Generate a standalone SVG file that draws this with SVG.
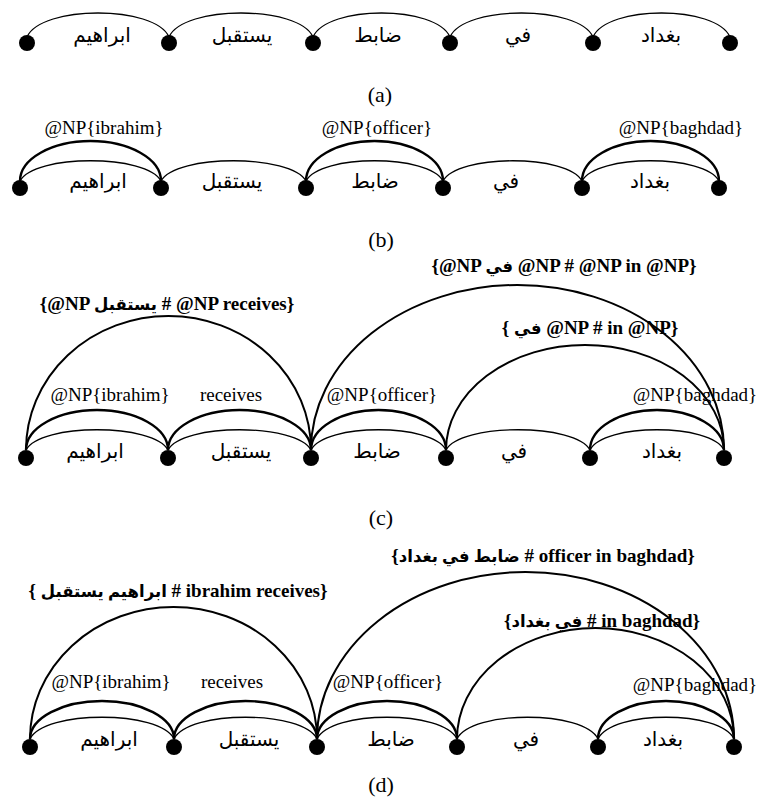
<svg xmlns="http://www.w3.org/2000/svg" width="763" height="799" viewBox="0 0 763 799">
<style>
.bg{fill:#fff}
.thin{fill:none;stroke:#000;stroke-width:1.3}
.thick{fill:none;stroke:#000;stroke-width:2.4}
.big{fill:none;stroke:#000;stroke-width:2}
.dot{fill:#000}
.w{font-family:"Liberation Sans","DejaVu Sans",sans-serif;font-size:20px;text-anchor:middle;fill:#000}
.l{font-family:"Liberation Serif","DejaVu Serif",serif;font-size:19px;text-anchor:middle;fill:#000}
.b{font-family:"Liberation Serif","DejaVu Sans",serif;font-weight:bold;font-size:19px;text-anchor:middle;fill:#000}
.ar{font-size:16.5px}
.cap{font-family:"Liberation Serif","DejaVu Serif",serif;font-size:22px;text-anchor:middle;fill:#000}
</style>
<rect class="bg" x="0" y="0" width="763" height="799"/>

<!-- Panel (a) -->
<g id="connectors-a">
<path class="thin" d="M 27 37 C 41 5 155 5 169 37"/>
<path class="thin" d="M 169 37 C 183 5 299 5 313 37"/>
<path class="thin" d="M 313 37 C 327 5 436 5 450 37"/>
<path class="thin" d="M 450 37 C 464 5 579 5 593 37"/>
<path class="thin" d="M 593 37 C 607 5 716 5 730 37"/>
</g>
<g id="a-n1"><circle class="dot" cx="27" cy="43" r="8"/></g>
<g id="a-n2"><circle class="dot" cx="169" cy="43" r="8"/></g>
<g id="a-n3"><circle class="dot" cx="313" cy="43" r="8"/></g>
<g id="a-n4"><circle class="dot" cx="450" cy="43" r="8"/></g>
<g id="a-n5"><circle class="dot" cx="593" cy="43" r="8"/></g>
<g id="a-n6"><circle class="dot" cx="730" cy="43" r="8"/></g>
<g id="labels-a">
<text class="w" x="102" y="42">ابراهيم</text>
<text class="w" x="242" y="42">يستقبل</text>
<text class="w" x="378" y="42">ضابط</text>
<text class="w" x="518" y="42">في</text>
<text class="w" x="661" y="42">بغداد</text>
<text class="cap" x="380" y="102">(a)</text>
</g>

<!-- Panel (b) -->
<g id="connectors-b">
<path class="thin" d="M 20 181 C 34 154 147 154 161 181"/>
<path class="thin" d="M 161 181 C 175.5 154 291.5 154 306 181"/>
<path class="thin" d="M 306 181 C 320 154 429 154 443 181"/>
<path class="thin" d="M 443 181 C 457 154 568 154 582 181"/>
<path class="thin" d="M 582 181 C 596 154 705 154 719 181"/>
<path class="thick" d="M 20 181 A 70.5 40 0 0 1 161 181"/>
<path class="thick" d="M 306 181 A 68.5 40 0 0 1 443 181"/>
<path class="thick" d="M 582 181 A 68.5 40 0 0 1 719 181"/>
</g>
<g id="b-n1"><circle class="dot" cx="20" cy="188" r="8"/></g>
<g id="b-n2"><circle class="dot" cx="161" cy="188" r="8"/></g>
<g id="b-n3"><circle class="dot" cx="306" cy="188" r="8"/></g>
<g id="b-n4"><circle class="dot" cx="443" cy="188" r="8"/></g>
<g id="b-n5"><circle class="dot" cx="582" cy="188" r="8"/></g>
<g id="b-n6"><circle class="dot" cx="719" cy="188" r="8"/></g>
<g id="labels-b">
<text class="w" x="98" y="188">ابراهيم</text>
<text class="w" x="232" y="188">يستقبل</text>
<text class="w" x="375" y="188">ضابط</text>
<text class="w" x="506" y="188">في</text>
<text class="w" x="650" y="188">بغداد</text>
<text class="l" x="104" y="134">@NP{ibrahim}</text>
<text class="l" x="377" y="134">@NP{officer}</text>
<text class="l" x="681" y="134">@NP{baghdad}</text>
<text class="cap" x="381" y="247">(b)</text>
</g>

<!-- Panel (c) -->
<g id="connectors-c">
<path class="thin" d="M 26 450 C 40 423 154 423 168 450"/>
<path class="thin" d="M 168 450 C 182 423 297 423 311 450"/>
<path class="thin" d="M 311 450 C 324.5 423 432.5 423 446 450"/>
<path class="thin" d="M 446 450 C 460 423 576 423 590 450"/>
<path class="thin" d="M 590 450 C 603 423 711 423 724 450"/>
<path class="thick" d="M 26 450 A 71 40 0 0 1 168 450"/>
<path class="thick" d="M 168 450 A 71.5 40 0 0 1 311 450"/>
<path class="thick" d="M 311 450 A 67.5 40 0 0 1 446 450"/>
<path class="thick" d="M 590 450 A 67 40 0 0 1 724 450"/>
<path class="big" d="M 26 450 A 142.5 134 0 0 1 311 450"/>
<path class="big" d="M 311 450 A 206.5 165 0 0 1 724 450"/>
<path class="big" d="M 446 450 A 139 105 0 0 1 724 450"/>
</g>
<g id="c-n1"><circle class="dot" cx="26" cy="458" r="8"/></g>
<g id="c-n2"><circle class="dot" cx="168" cy="458" r="8"/></g>
<g id="c-n3"><circle class="dot" cx="311" cy="458" r="8"/></g>
<g id="c-n4"><circle class="dot" cx="446" cy="458" r="8"/></g>
<g id="c-n5"><circle class="dot" cx="590" cy="458" r="8"/></g>
<g id="c-n6"><circle class="dot" cx="724" cy="458" r="8"/></g>
<g id="labels-c">
<text class="w" x="95" y="458">ابراهيم</text>
<text class="w" x="241" y="458">يستقبل</text>
<text class="w" x="377" y="458">ضابط</text>
<text class="w" x="514" y="458">في</text>
<text class="w" x="662" y="458">بغداد</text>
<text class="l" x="110" y="401">@NP{ibrahim}</text>
<text class="l" x="231" y="401">receives</text>
<text class="l" x="382" y="401">@NP{officer}</text>
<text class="l" x="695" y="401">@NP{baghdad}</text>
<text class="b" x="167" y="310">{@NP <tspan class="ar">يستقبل</tspan> # @NP receives}</text>
<text class="b" x="564" y="272">{@NP <tspan class="ar">في</tspan> @NP # @NP in @NP}</text>
<text class="b" x="590" y="334">{ <tspan class="ar">في</tspan> @NP # in @NP}</text>
<text class="cap" x="381" y="525">(c)</text>
</g>

<!-- Panel (d) -->
<g id="connectors-d">
<path class="thin" d="M 30 739 C 44 710 160 710 174 739"/>
<path class="thin" d="M 174 739 C 188 710 303 710 317 739"/>
<path class="thin" d="M 317 739 C 331 710 443 710 457 739"/>
<path class="thin" d="M 457 739 C 471 710 584 710 598 739"/>
<path class="thin" d="M 598 739 C 612 710 720 710 734 739"/>
<path class="thick" d="M 30 739 A 72 38 0 0 1 174 739"/>
<path class="thick" d="M 174 739 A 71.5 38 0 0 1 317 739"/>
<path class="thick" d="M 317 739 A 70 38 0 0 1 457 739"/>
<path class="thick" d="M 598 739 A 68 38 0 0 1 734 739"/>
<path class="big" d="M 30 739 A 143.5 132 0 0 1 317 739"/>
<path class="big" d="M 317 739 A 208.5 167 0 0 1 734 739"/>
<path class="big" d="M 457 739 A 138.5 111 0 0 1 734 739"/>
</g>
<g id="d-n1"><circle class="dot" cx="30" cy="747" r="8"/></g>
<g id="d-n2"><circle class="dot" cx="174" cy="747" r="8"/></g>
<g id="d-n3"><circle class="dot" cx="317" cy="747" r="8"/></g>
<g id="d-n4"><circle class="dot" cx="457" cy="747" r="8"/></g>
<g id="d-n5"><circle class="dot" cx="598" cy="747" r="8"/></g>
<g id="d-n6"><circle class="dot" cx="734" cy="747" r="8"/></g>
<g id="labels-d">
<text class="w" x="109" y="746">ابراهيم</text>
<text class="w" x="249" y="746">يستقبل</text>
<text class="w" x="391" y="746">ضابط</text>
<text class="w" x="526" y="746">في</text>
<text class="w" x="663" y="746">بغداد</text>
<text class="l" x="111" y="688">@NP{ibrahim}</text>
<text class="l" x="232" y="688">receives</text>
<text class="l" x="388" y="688">@NP{officer}</text>
<text class="l" x="695" y="691">@NP{baghdad}</text>
<text class="b" x="178" y="597">{ <tspan class="ar">ابراهيم يستقبل</tspan> # ibrahim receives}</text>
<text class="b" x="543" y="562">{<tspan class="ar">ضابط في بغداد</tspan> # officer in baghdad}</text>
<text class="b" x="602" y="627">{<tspan class="ar">في بغداد</tspan> # in baghdad}</text>
<text class="cap" x="381" y="792">(d)</text>
</g>
</svg>
